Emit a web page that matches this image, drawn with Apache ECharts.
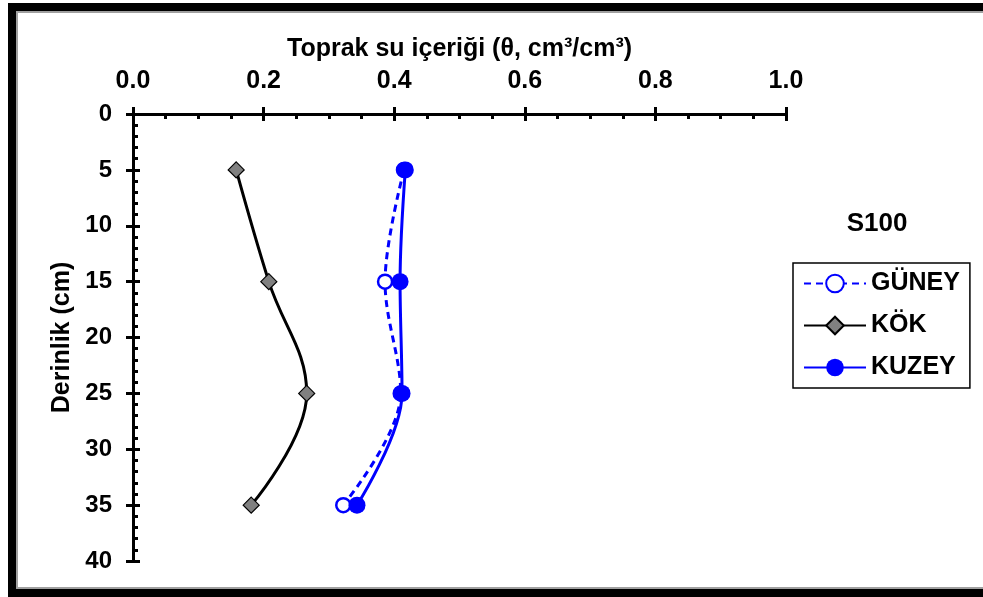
<!DOCTYPE html>
<html>
<head>
<meta charset="utf-8">
<script src="https://cdn.jsdelivr.net/npm/echarts@6/dist/echarts.min.js"></script>
<style>
html,body{margin:0;padding:0;background:#fff;}
#chart{width:983px;height:597px;}
</style>
</head>
<body>
<div id="chart"></div>
<script>
const depths = [5, 15, 25, 35];
const guney = [0.415, 0.386, 0.41, 0.322];
const kok = [0.158, 0.208, 0.266, 0.181];
const kuzey = [0.417, 0.409, 0.412, 0.343];
const seriesNames = ['GÜNEY', 'KÖK', 'KUZEY'];
const xTitle = 'Toprak su içeriği (θ, cm³/cm³)';
const yTitle = 'Derinlik (cm)';
const panelTitle = 'S100';

const pts = arr => arr.map((v, i) => [v, depths[i]]);
const FONT = 'Liberation Sans, Arial, sans-serif';
const chart = echarts.init(document.getElementById('chart'));

const baseX = {
  type: 'value', min: 0, max: 1, interval: 0.2, position: 'top',
  splitLine: { show: false }
};
const baseY = {
  type: 'value', min: 0, max: 40, interval: 5, inverse: true, position: 'left',
  splitLine: { show: false }
};

chart.setOption({
  animation: false,
  backgroundColor: '#fff',
  grid: { left: 133, right: 197, top: 114, bottom: 36, containLabel: false },
  xAxis: [
    Object.assign({}, baseX, {
      name: xTitle, nameLocation: 'middle', nameGap: 52,
      nameTextStyle: { fontFamily: FONT, fontWeight: 'bold', fontSize: 25, color: '#000' },
      axisLine: { show: true, onZero: false, lineStyle: { color: '#000', width: 3 } },
      axisTick: { show: true, inside: false, length: 7, lineStyle: { color: '#000', width: 3 } },
      axisLabel: { show: true, margin: 20, fontFamily: FONT, fontWeight: 'bold', fontSize: 25, color: '#000',
        formatter: v => v.toFixed(1) }
    }),
    Object.assign({}, baseX, {
      axisLine: { show: false, onZero: false },
      axisTick: { show: true, inside: true, length: 7, lineStyle: { color: '#000', width: 3 } },
      minorTick: { show: true, splitNumber: 4, length: 5, lineStyle: { color: '#000', width: 3 } },
      axisLabel: { show: false }
    })
  ],
  yAxis: [
    Object.assign({}, baseY, {
      name: yTitle, nameLocation: 'middle', nameGap: 58, nameRotate: 90,
      nameTextStyle: { fontFamily: FONT, fontWeight: 'bold', fontSize: 25, color: '#000' },
      axisLine: { show: true, onZero: false, lineStyle: { color: '#000', width: 3 } },
      axisTick: { show: true, inside: false, length: 7, lineStyle: { color: '#000', width: 3 } },
      axisLabel: { show: true, margin: 21, fontFamily: FONT, fontWeight: 'bold', fontSize: 24, color: '#000' }
    }),
    Object.assign({}, baseY, {
      axisLine: { show: false, onZero: false },
      axisTick: { show: true, inside: true, length: 7, lineStyle: { color: '#000', width: 3 } },
      minorTick: { show: true, splitNumber: 5, length: 5, lineStyle: { color: '#000', width: 3 } },
      axisLabel: { show: false }
    })
  ],
  legend: {
    orient: 'vertical', left: 793, top: 263,
    padding: [8, 10, 8, 10],
    itemWidth: 62, itemHeight: 22, itemGap: 17,
    borderColor: '#000', borderWidth: 1.5, borderRadius: 0,
    backgroundColor: '#fff',
    textStyle: { fontFamily: FONT, fontWeight: 'bold', fontSize: 25, color: '#000', lineHeight: 22 },
    data: seriesNames
  },
  graphic: [
    { type: 'text', x: 877, y: 224, style: { text: panelTitle, font: 'bold 26px ' + FONT, fill: '#000', align: 'center', verticalAlign: 'middle' } },
    { type: 'rect', shape: { x: 8, y: 3, width: 8, height: 594 }, style: { fill: '#000' } },
    { type: 'rect', shape: { x: 8, y: 3, width: 975, height: 8 }, style: { fill: '#000' } },
    { type: 'rect', shape: { x: 8, y: 589, width: 975, height: 8 }, style: { fill: '#000' } },
    { type: 'rect', shape: { x: 16, y: 11, width: 2, height: 578 }, style: { fill: '#a0a0a0' } },
    { type: 'rect', shape: { x: 16, y: 11, width: 967, height: 2 }, style: { fill: '#a0a0a0' } },
    { type: 'rect', shape: { x: 16, y: 587, width: 967, height: 2 }, style: { fill: '#a0a0a0' } }
  ],
  series: [
    {
      name: seriesNames[0], type: 'line', data: pts(guney), smooth: 0.35,
      xAxisIndex: 0, yAxisIndex: 0,
      symbol: 'circle', symbolSize: 14,
      lineStyle: { color: '#0000ff', width: 3, type: [7, 5] },
      itemStyle: { color: '#fff', borderColor: '#0000ff', borderWidth: 2.5 }
    },
    {
      name: seriesNames[1], type: 'line', data: pts(kok), smooth: 0.4,
      xAxisIndex: 0, yAxisIndex: 0,
      symbol: 'diamond', symbolSize: 16,
      lineStyle: { color: '#000', width: 3 },
      itemStyle: { color: '#808080', borderColor: '#000', borderWidth: 1.2 }
    },
    {
      name: seriesNames[2], type: 'line', data: pts(kuzey), smooth: 0.35,
      xAxisIndex: 0, yAxisIndex: 0,
      symbol: 'circle', symbolSize: 17,
      lineStyle: { color: '#0000ff', width: 3 },
      itemStyle: { color: '#0000ff', borderColor: '#0000ff', borderWidth: 0 }
    }
  ]
});
</script>
</body>
</html>
